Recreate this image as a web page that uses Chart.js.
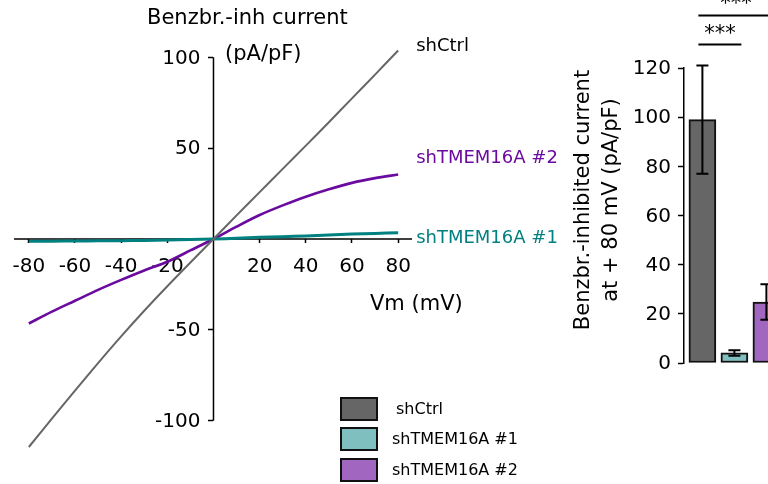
<!DOCTYPE html>
<html>
<head>
<meta charset="utf-8">
<script src="https://cdn.jsdelivr.net/npm/chart.js@4"></script>
<style>
  html, body { margin: 0; padding: 0; background: #fff; }
  #wrap { position: relative; width: 768px; height: 484px; overflow: hidden; }
  canvas { position: absolute; top: 0; }
  #iv { left: 0; }
  #bar { left: 560px; }
</style>
</head>
<body>
<div id="wrap">
  <canvas id="iv" width="572" height="484"></canvas>
  <canvas id="bar" width="208" height="484"></canvas>
</div>
<script>
// Membrane voltage (mV) and benzbromarone-inhibited current density (pA/pF)
const vm = [-80, -70, -60, -50, -40, -30, -20, -10, 0, 10, 20, 30, 40, 50, 60, 70, 80];
const ctrlCurrent = [-114.5, -98.9, -83.5, -68.3, -53.6, -39.5, -26, -12.9, 0, 13, 25.8, 38.6, 51.4, 64.3, 77.4, 90.5, 103.8];
const kd1Current = [-1.3, -1.2, -1.1, -1.0, -0.9, -0.8, -0.6, -0.3, 0, 0.4, 0.9, 1.3, 1.7, 2.2, 2.7, 3.1, 3.5];
const kd2Current = [-46.5, -40, -34, -28, -22.5, -17.3, -12.5, -6.3, 0, 6.8, 13.2, 18.5, 23.3, 27.4, 30.9, 33.5, 35.5];
const vmTicks = [-80, -60, -40, -20, 20, 40, 60, 80];
const currentTicks = [-100, -50, 50, 100];

// Summary at +80 mV
const groups = ['shCtrl', 'shTMEM16A #1', 'shTMEM16A #2'];
const meanAt80 = [99, 4.1, 24.8];
const semAt80 = [22, 1.1, 7.2];
const barTicks = [0, 20, 40, 60, 80, 100, 120];

const lineColors = ['#666666', '#008080', '#6a0a9f'];
const fillColors = ['#666666', '#80bfbf', '#a066c0'];
const FONT = "'DejaVu Sans', sans-serif";

Chart.defaults.font.family = FONT;
Chart.defaults.color = '#000';

const pts = arr => vm.map((v, i) => ({ x: v, y: arr[i] }));

function text(ctx, str, x, y, size, color, align) {
  ctx.save();
  ctx.font = size + 'px ' + FONT;
  ctx.fillStyle = color;
  ctx.textAlign = align || 'left';
  ctx.textBaseline = 'middle';
  ctx.fillText(str, x, y);
  ctx.restore();
}

// Value labels to the left of a y axis that sits inside the plot area
function yLabels(ctx, yScale, axisX) {
  yScale.ticks.forEach(t => {
    text(ctx, String(t.value), axisX - 13, yScale.getPixelForValue(t.value) + 1, 20, '#000', 'right');
  });
}

// Axis lines crossing at the origin, titles, trace labels and legend
const ivDecor = {
  id: 'ivDecor',
  beforeDatasetsDraw(chart) {
    const { ctx, chartArea: a, scales: { x, y } } = chart;
    const x0 = x.getPixelForValue(0), y0 = y.getPixelForValue(0);
    ctx.save();
    ctx.strokeStyle = '#000';
    ctx.lineWidth = 1.5;
    ctx.beginPath();
    ctx.moveTo(a.left, y0); ctx.lineTo(a.right, y0);
    ctx.moveTo(x0, y.getPixelForValue(currentTicks[0]));
    ctx.lineTo(x0, y.getPixelForValue(currentTicks[currentTicks.length - 1]));
    ctx.stroke();
    ctx.restore();
    yLabels(ctx, y, x0);
  },
  afterDraw(chart) {
    const { ctx, scales: { x } } = chart;
    text(ctx, 'Benzbr.-inh current', 147, 19, 21, '#000');
    text(ctx, '(pA/pF)', 225, 55, 21, '#000');
    text(ctx, 'Vm (mV)', 370, 305, 21, '#000');

    const lx = x.getPixelForValue(vm[vm.length - 1]) + 18;
    text(ctx, groups[0], lx, 46, 18, '#000');
    text(ctx, groups[2], lx, 158, 18, lineColors[2]);
    text(ctx, groups[1], lx, 238, 18, lineColors[1]);

    // legend
    const rows = [409, 439, 470];
    groups.forEach((g, i) => {
      ctx.save();
      ctx.fillStyle = fillColors[i];
      ctx.strokeStyle = '#111';
      ctx.lineWidth = 2;
      ctx.fillRect(341, rows[i] - 11, 36, 22);
      ctx.strokeRect(341, rows[i] - 11, 36, 22);
      ctx.restore();
      text(ctx, g, i === 0 ? 396 : 392, rows[i] + 1, 16, '#000');
    });
  }
};

new Chart(document.getElementById('iv'), {
  type: 'line',
  data: {
    datasets: [
      { label: groups[0], data: pts(ctrlCurrent), borderColor: lineColors[0], borderWidth: 2 },
      { label: groups[1], data: pts(kd1Current), borderColor: lineColors[1], borderWidth: 3 },
      { label: groups[2], data: pts(kd2Current), borderColor: lineColors[2], borderWidth: 2.6 }
    ]
  },
  options: {
    responsive: false,
    animation: false,
    events: [],
    layout: { padding: { left: 13, right: 160, top: 47, bottom: 35 } },
    elements: { point: { radius: 0 }, line: { tension: 0.3, fill: false } },
    datasets: { line: { clip: false } },
    plugins: { legend: { display: false }, tooltip: { enabled: false } },
    scales: {
      x: {
        type: 'linear', min: -86.4, max: 86, position: { y: 0 },
        afterBuildTicks: s => { s.ticks = vmTicks.map(v => ({ value: v })); },
        grid: { display: true, drawOnChartArea: false, drawTicks: true, tickLength: 4, tickColor: '#000', tickWidth: 1.5 },
        border: { display: false },
        ticks: { font: { size: 20 }, color: '#000', padding: 12, maxRotation: 0, autoSkip: false }
      },
      y: {
        type: 'linear', min: -115.6, max: 105.7, position: { x: 0 },
        afterBuildTicks: s => { s.ticks = currentTicks.map(v => ({ value: v })); },
        grid: { display: true, drawOnChartArea: false, drawTicks: true, tickLength: 5, tickColor: '#000', tickWidth: 1.5 },
        border: { display: false },
        ticks: { display: false }
      }
    }
  },
  plugins: [ivDecor]
});

// Error bars, significance brackets, y values and the rotated axis title
const barDecor = {
  id: 'barDecor',
  afterDatasetsDraw(chart) {
    const { ctx, chartArea: a, scales: { x, y } } = chart;
    yLabels(ctx, y, a.left);
    ctx.save();
    ctx.strokeStyle = '#000';
    ctx.lineWidth = 2;
    meanAt80.forEach((m, i) => {
      const px = x.getPixelForValue(i);
      const top = y.getPixelForValue(m + semAt80[i]);
      const bot = y.getPixelForValue(m - semAt80[i]);
      ctx.beginPath();
      ctx.moveTo(px, top); ctx.lineTo(px, bot);
      ctx.moveTo(px - 6, top); ctx.lineTo(px + 6, top);
      ctx.moveTo(px - 6, bot); ctx.lineTo(px + 6, bot);
      ctx.stroke();
    });
    const p0 = x.getPixelForValue(0), p1 = x.getPixelForValue(1), p2 = x.getPixelForValue(2);
    const lowY = a.top - 23.5, highY = a.top - 52.5;
    ctx.beginPath();
    ctx.moveTo(p0 - 4, lowY); ctx.lineTo(p1 + 7, lowY);
    ctx.moveTo(p0 - 4, highY); ctx.lineTo(p2 + 7, highY);
    ctx.stroke();
    ctx.restore();
    text(ctx, '***', (p0 - 4 + p1 + 7) / 2, lowY - 10, 21, '#000', 'center');
    text(ctx, '***', (p0 - 4 + p2 + 7) / 2, highY - 11, 21, '#000', 'center');

    ctx.save();
    ctx.translate(23.5, 200);
    ctx.rotate(-Math.PI / 2);
    text(ctx, 'Benzbr.-inhibited current', 0, 0, 21, '#000', 'center');
    text(ctx, 'at + 80 mV (pA/pF)', 0, 28, 21, '#000', 'center');
    ctx.restore();
  }
};

new Chart(document.getElementById('bar'), {
  type: 'bar',
  data: {
    datasets: [{
      label: 'Benzbr.-inhibited current at +80 mV',
      data: meanAt80.map((m, i) => ({ x: i, y: m })),
      backgroundColor: fillColors,
      borderColor: '#111',
      borderWidth: 2,
      borderSkipped: false,
      barThickness: 27
    }]
  },
  options: {
    responsive: false,
    animation: false,
    events: [],
    layout: { padding: { left: 124, right: 0, top: 68, bottom: 121 } },
    plugins: { legend: { display: false }, tooltip: { enabled: false } },
    scales: {
      x: {
        type: 'linear', min: -0.575, max: 2.05, offset: false, position: { y: 0 },
        ticks: { display: false }, grid: { display: false, offset: false }, border: { display: false }
      },
      y: {
        type: 'linear', min: 0, max: 120, position: { x: -0.575 },
        afterBuildTicks: s => { s.ticks = barTicks.map(v => ({ value: v })); },
        grid: { display: true, drawOnChartArea: false, drawTicks: true, tickLength: 5, tickColor: '#000', tickWidth: 1.5 },
        border: { display: true, color: '#000', width: 1.5 },
        ticks: { display: false }
      }
    }
  },
  plugins: [barDecor]
});
</script>
</body>
</html>
